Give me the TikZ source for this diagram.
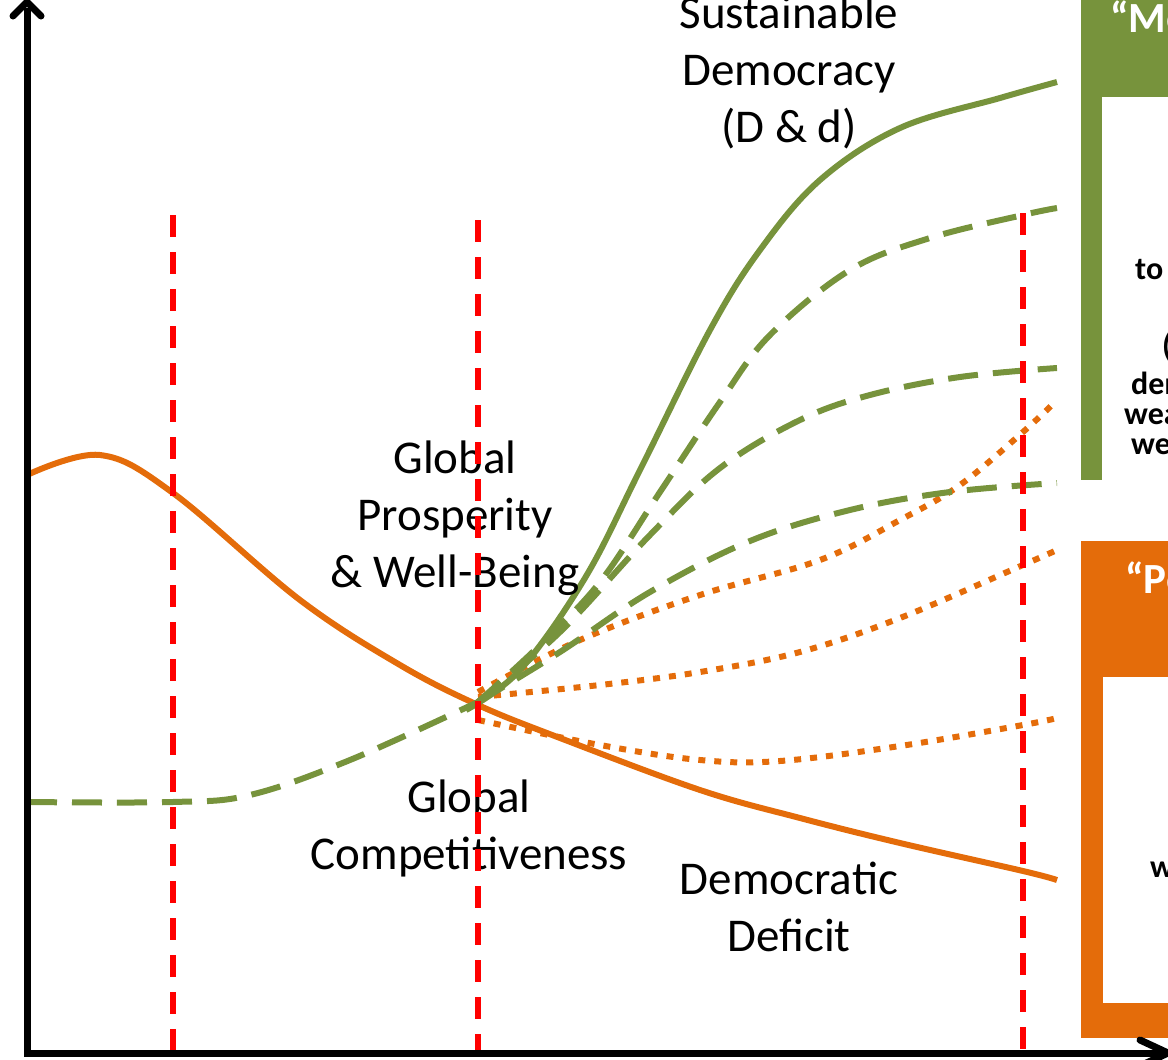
\documentclass[tikz,border=0pt]{standalone}
\usepackage{fontspec}
\setmainfont{Carlito}
\definecolor{ogreen}{HTML}{77933C}
\definecolor{oorange}{HTML}{E46C0A}
\begin{document}
\begin{tikzpicture}[x=1pt,y=-1pt,
  axis/.style={line width=7pt,black},
  reddash/.style={line width=5.5pt,red,dash pattern=on 22pt off 15pt},
  gsolid/.style={line width=6pt,ogreen},
  gdash/.style={line width=6pt,ogreen,dash pattern=on 30pt off 15pt},
  osolid/.style={line width=6pt,oorange},
  odot/.style={line width=6pt,oorange,dash pattern=on 7pt off 9pt},
  biglabel/.style={font=\fontsize{47}{57}\selectfont,align=center,inner sep=0pt},
  boxtext/.style={font=\fontsize{32}{30}\selectfont\bfseries,anchor=base west,inner sep=0pt},
  boxtitle/.style={font=\fontsize{43}{48}\selectfont\bfseries,text=white,anchor=base west,inner sep=0pt}]
\useasboundingbox (0,0) rectangle (1168,1060);
\begin{scope}
\clip (0,0) rectangle (1168,1060);
% curves
\draw[osolid] plot[smooth,tension=0.6] coordinates {(27,475) (100,455) (173,493) (300,600) (400,665) (478,705) (560,738) (700,790) (800,818) (900,843) (1023,871) (1057,880)};
\draw[gdash] plot[smooth,tension=0.6] coordinates {(27,802) (173,802) (250,795) (350,760) (478,702)};
\draw[odot] plot[smooth,tension=0.6] coordinates {(478,692) (580,640) (700,595) (820,560) (900,520) (960,485) (1023,432) (1057,400)};
\draw[odot] plot[smooth,tension=0.6] coordinates {(478,697) (600,685) (700,672) (800,652) (900,618) (1023,565) (1057,550)};
\draw[odot] plot[smooth,tension=0.6] coordinates {(478,720) (600,745) (700,760) (780,761) (900,746) (1023,725) (1057,718)};
\draw[gdash] plot[smooth,tension=0.6] coordinates {(478,702) (560,652) (650,592) (750,541) (850,510) (950,492) (1057,483)};
\draw[gdash] plot[smooth,tension=0.6] coordinates {(478,702) (560,632) (650,535) (720,468) (800,420) (870,395) (960,377) (1057,368)};
\draw[gdash] plot[smooth,tension=0.6] coordinates {(478,702) (540,645) (600,582) (660,492) (720,402) (770,335) (850,270) (930,238) (1023,215) (1057,208)};
\draw[gsolid] plot[smooth,tension=0.6] coordinates {(466,710) (520,670) (585,578) (640,470) (710,330) (760,250) (820,180) (900,128) (1000,98) (1057,82)};
% labels
\node[biglabel] (sd) at (789,72) {Sustainable\\Democracy\\(D \& d)};
\node[biglabel] (gp) at (455,518) {Global\\Prosperity\\\& Well-Being};
\node[biglabel] (gc) at (469,828) {Global\\Competitiveness};
\node[biglabel] (dd) at (789,907) {Democratic\\Deficit};
% red dashed lines
\draw[reddash] (173,215) -- (173,1058);
\draw[reddash] (478,220) -- (478,1058);
\draw[reddash] (1023,213) -- (1023,1058);
% green box
\fill[ogreen] (1081,0) rectangle (1170,97);
\fill[ogreen] (1081,97) rectangle (1102,480);
\node[boxtitle] (t1) at (1110,32) {“Mo};
\node[boxtext] (g1) at (1135,279) {to};
\node[boxtext] (g2) at (1162,356) {(};
\node[boxtext] (g3) at (1131,394) {dem};
\node[boxtext] (g4) at (1124,424) {wea};
\node[boxtext] (g5) at (1131,454) {we};
% orange box
\fill[oorange] (1081,541) rectangle (1170,677);
\fill[oorange] (1081,677) rectangle (1103,1038);
\fill[oorange] (1103,1003) rectangle (1170,1038);
\node[boxtitle] (t2) at (1125,593) {“Po};
\node[boxtext] (o1) at (1150,877) {w};
% axes
\draw[axis,line join=miter] (27,8) -- (27,1053) -- (1175,1053);
\draw[axis,line cap=round,line join=round] (13,16) -- (27,2) -- (41,16);
\draw[axis,line cap=round,line join=round] (1140,1040) -- (1168,1053) -- (1140,1066);
\end{scope}
\end{tikzpicture}
\end{document}
